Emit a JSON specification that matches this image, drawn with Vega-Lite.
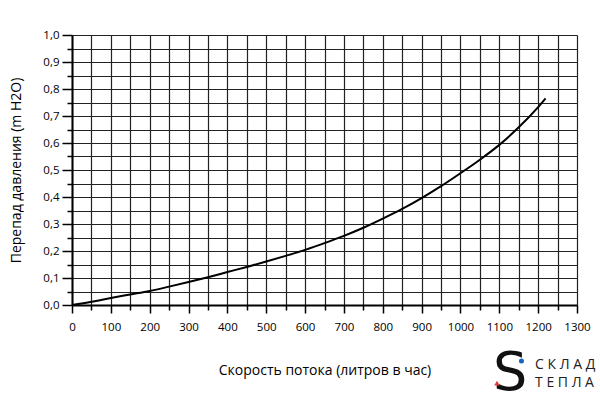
{
  "$schema": "https://vega.github.io/schema/vega-lite/v6.json",
  "autosize": {"type": "none"},
  "width": 505,
  "height": 270,
  "padding": {"left": 72, "top": 35, "right": 23, "bottom": 102},
  "background": "white",
  "config": {"view": {"stroke": null}, "font": "Open Sans"},
  "encoding": {
    "x": {
      "field": "flow", "type": "quantitative",
      "scale": {"domain": [0, 1300], "nice": false, "zero": false},
      "axis": {
        "title": "Скорость потока (литров в час)",
        "titleFont": "Open Sans", "titleFontSize": 14, "titleFontWeight": "normal", "titleColor": "black",
        "titlePadding": 31,
        "values": [0,50,100,150,200,250,300,350,400,450,500,550,600,650,700,750,800,850,900,950,1000,1050,1100,1150,1200,1250,1300],
        "labelExpr": "datum.value % 100 === 0 ? datum.label : ''",
        "format": "d",
        "labelOverlap": false,
        "labelFontSize": 11.5, "labelColor": "black", "labelPadding": 8,
        "labelFlush": false,
        "domainColor": "black", "domainWidth": 2,
        "tickColor": "black", "tickWidth": 1.5,
        "tickSize": {"condition": {"test": "datum.value % 100 === 0", "value": 8}, "value": 5},
        "grid": true, "gridColor": "#222", "gridWidth": 1.2, "gridOpacity": 1
      }
    },
    "y": {
      "field": "dp", "type": "quantitative",
      "scale": {"domain": [0, 1], "nice": false, "zero": false},
      "axis": {
        "title": "Перепад давления (m H2O)",
        "titleFont": "Open Sans", "titleFontSize": 14, "titleFontWeight": "normal", "titleColor": "black",
        "titlePadding": 19,
        "values": [0,0.05,0.1,0.15,0.2,0.25,0.3,0.35,0.4,0.45,0.5,0.55,0.6,0.65,0.7,0.75,0.8,0.85,0.9,0.95,1.0],
        "labelExpr": "round(datum.value*100) % 10 === 0 ? replace(format(datum.value, '.1f'), '.', ',') : ''",
        "labelOverlap": false,
        "labelFontSize": 11.5, "labelColor": "black", "labelPadding": 3,
        "labelFlush": false,
        "domainColor": "black", "domainWidth": 2,
        "tickColor": "black", "tickWidth": 1.5,
        "tickSize": {"condition": {"test": "round(datum.value*100) % 10 === 0", "value": 10}, "value": 5},
        "grid": true, "gridColor": "#222", "gridWidth": 1.2, "gridOpacity": 1
      }
    }
  },
  "layer": [
    {
      "data": {"values": [
        {"flow": 0, "dp": 0.0},
        {"flow": 50, "dp": 0.012},
        {"flow": 100, "dp": 0.026},
        {"flow": 150, "dp": 0.039},
        {"flow": 200, "dp": 0.052},
        {"flow": 250, "dp": 0.068},
        {"flow": 300, "dp": 0.085},
        {"flow": 350, "dp": 0.103},
        {"flow": 400, "dp": 0.122},
        {"flow": 450, "dp": 0.141},
        {"flow": 500, "dp": 0.161},
        {"flow": 550, "dp": 0.182},
        {"flow": 600, "dp": 0.204},
        {"flow": 650, "dp": 0.229},
        {"flow": 700, "dp": 0.256},
        {"flow": 750, "dp": 0.286},
        {"flow": 800, "dp": 0.32},
        {"flow": 850, "dp": 0.356},
        {"flow": 900, "dp": 0.396},
        {"flow": 950, "dp": 0.44},
        {"flow": 1000, "dp": 0.488},
        {"flow": 1050, "dp": 0.538},
        {"flow": 1100, "dp": 0.593},
        {"flow": 1150, "dp": 0.658},
        {"flow": 1200, "dp": 0.733},
        {"flow": 1219, "dp": 0.765}
      ]},
      "mark": {"type": "line", "color": "black", "strokeWidth": 2, "interpolate": "monotone"}
    },
    {
      "data": {"values": [
        {"flow": 1192, "dp": -0.222, "t": "С К Л А Д"},
        {"flow": 1192, "dp": -0.289, "t": "Т Е П Л А"}
      ]},
      "mark": {"type": "text", "align": "left", "baseline": "middle", "fontSize": 14, "font": "Open Sans", "color": "#222"},
      "encoding": {"text": {"field": "t"}}
    },
    {
      "data": {"values": [{"flow": 1128, "dp": -0.256, "t": "S"}]},
      "mark": {"type": "text", "align": "center", "baseline": "middle", "fontSize": 54, "font": "DejaVu Sans", "fontWeight": "normal", "color": "#111"},
      "encoding": {"text": {"field": "t"}}
    },
    {
      "data": {"values": [{"flow": 1157, "dp": -0.207}]},
      "mark": {"type": "point", "shape": "circle", "filled": true, "size": 25, "color": "#1565c0", "opacity": 1}
    },
    {
      "data": {"values": [{"flow": 1094, "dp": -0.289}]},
      "mark": {"type": "point", "shape": "triangle-up", "filled": true, "size": 30, "color": "#e53935", "opacity": 1}
    }
  ]
}
